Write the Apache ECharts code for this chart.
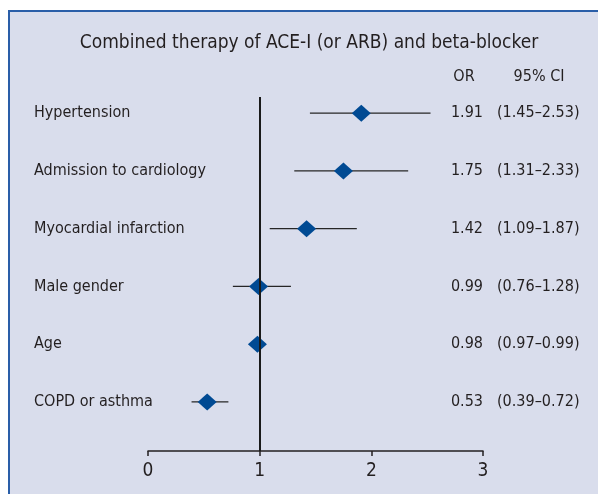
<!DOCTYPE html>
<html>
<head>
<meta charset="utf-8">
<script src="https://cdn.jsdelivr.net/npm/echarts@6/dist/echarts.min.js"></script>
<style>
  html, body { margin: 0; padding: 0; background: #fff; }
  #forest { width: 598px; height: 494px; }
</style>
</head>
<body>
<div id="forest"></div>
<script>
  // rows, top to bottom
  const labels = ['Hypertension', 'Admission to cardiology', 'Myocardial infarction', 'Male gender', 'Age', 'COPD or asthma']
  const orValues = [1.91, 1.75, 1.42, 0.99, 0.98, 0.53]
  const ciLow = [1.45, 1.31, 1.09, 0.76, 0.97, 0.39]
  const ciHigh = [2.53, 2.33, 1.87, 1.28, 0.99, 0.72]
  const xTicks = [0, 1, 2, 3]

  const FONT = "'Liberation Sans Narrow', 'DejaVu Sans Condensed', 'Roboto Condensed', sans-serif"
  const TXT = '#231f20'

  let mychart = echarts.init(document.getElementById('forest'))

  let rows = labels.map((name, i) => [orValues[i], i, ciLow[i], ciHigh[i]])

  mychart.setOption({
    backgroundColor: '#ffffff',
    animation: false,
    title: {
      text: 'Combined therapy of ACE-I (or ARB) and beta-blocker',
      left: 304,
      top: 29,
      textAlign: 'center',
      textStyle: { fontFamily: FONT, fontWeight: 'normal', fontSize: 19, color: TXT }
    },
    graphic: [
      { type: 'rect', z: -10, shape: { x: 8, y: 10, width: 590, height: 490 },
        style: { fill: '#d9ddec' } },
      { type: 'line', z: -9, shape: { x1: 9, y1: 10, x2: 9, y2: 494 },
        style: { stroke: '#2a5ea8', lineWidth: 2 } },
      { type: 'line', z: -9, shape: { x1: 8, y1: 11, x2: 598, y2: 11 },
        style: { stroke: '#2a5ea8', lineWidth: 2 } },
      { type: 'text', style: { x: 464, y: 77, text: 'OR', align: 'center', verticalAlign: 'middle',
        font: '16px ' + FONT, fill: TXT } },
      { type: 'text', style: { x: 539, y: 77, text: '95% CI', align: 'center', verticalAlign: 'middle',
        font: '16px ' + FONT, fill: TXT } }
    ],
    grid: { left: 148, right: 115, top: 97, bottom: 43 },
    xAxis: {
      type: 'value',
      min: 0,
      max: 3,
      interval: 1,
      splitLine: { show: false },
      axisLine: { show: true, onZero: false, lineStyle: { color: '#231f20', width: 1.5 } },
      axisTick: { show: true, length: 5, lineStyle: { color: '#231f20', width: 1.5 } },
      axisLabel: { margin: 11, fontFamily: FONT, fontSize: 19, color: TXT,
        formatter: v => xTicks.indexOf(v) >= 0 ? String(v) : '' }
    },
    yAxis: {
      type: 'value',
      inverse: true,
      min: -0.28,
      max: 5.85,
      show: false
    },
    series: [
      {
        // confidence intervals
        type: 'custom',
        z: 2,
        renderItem: function (params, api) {
          let a = api.coord([api.value(2), api.value(1)])
          let b = api.coord([api.value(3), api.value(1)])
          return { type: 'line', shape: { x1: a[0], y1: a[1], x2: b[0], y2: b[1] },
            style: { stroke: '#262626', lineWidth: 1.4 } }
        },
        data: rows
      },
      {
        type: 'scatter',
        z: 4,
        symbol: 'diamond',
        symbolSize: [19, 17],
        itemStyle: { color: '#004a93', opacity: 1 },
        data: rows.map(r => [r[0], r[1]]),
        markLine: {
          silent: true,
          symbol: 'none',
          label: { show: false },
          lineStyle: { color: '#1a1a1a', width: 2, type: 'solid' },
          data: [{ xAxis: 1 }]
        }
      },
      {
        // row texts: label, OR, CI
        type: 'custom',
        z: 5,
        renderItem: function (params, api) {
          let i = api.value(1)
          let y = api.coord([0, i])[1]
          let style = { font: '16px ' + FONT, fill: TXT, verticalAlign: 'middle' }
          return {
            type: 'group',
            children: [
              { type: 'text', style: Object.assign({ x: 34, y: y, text: labels[i], align: 'left' }, style) },
              { type: 'text', style: Object.assign({ x: 483, y: y, text: orValues[i].toFixed(2), align: 'right' }, style) },
              { type: 'text', style: Object.assign({ x: 497, y: y,
                text: '(' + ciLow[i].toFixed(2) + '\u2013' + ciHigh[i].toFixed(2) + ')', align: 'left' }, style) }
            ]
          }
        },
        data: rows
      }
    ]
  })
</script>
</body>
</html>
